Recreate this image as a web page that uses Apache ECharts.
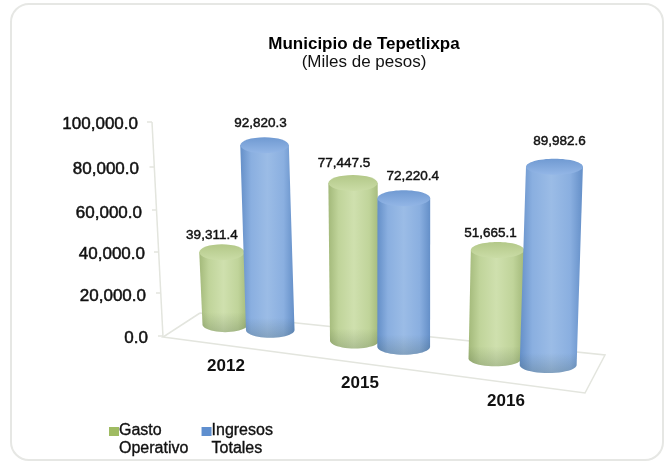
<!DOCTYPE html>
<html>
<head>
<meta charset="utf-8">
<style>html,body{margin:0;padding:0;background:#fff}#c{width:665px;height:462px}</style>
<script src="https://cdn.jsdelivr.net/npm/echarts@6/dist/echarts.min.js"></script>
</head>
<body>
<div id="c"></div>
<script>
const categories = ['2012', '2015', '2016'];
const gastoOperativo = [39311.4, 77447.5, 51665.1];
const ingresosTotales = [92820.3, 72220.4, 89982.6];
const yTicks = [0, 20000, 40000, 60000, 80000, 100000];

const FONT = '"Liberation Sans", Arial, sans-serif';
const fmt = v => v.toLocaleString('en-US', {minimumFractionDigits: 1, maximumFractionDigits: 1});

// Perspective of the 3-D scene, applied on top of the axis scales
const warp = x => x + 0.000293 * (x - 379) * (x - 379);
const warpD = x => 1 + 0.000586 * (x - 379);
const baseY = x => 324 + 0.1265 * (x - 224);
const depthStops = [[222, 0.85], [271, 0.93], [354, 0.95], [404, 0.96], [495, 0.98], [548, 1.03]];
const depthScale = x => {
  for (let i = 1; i < depthStops.length; i++) {
    if (x <= depthStops[i][0]) {
      const a = depthStops[i - 1], b = depthStops[i];
      return a[1] + (b[1] - a[1]) * Math.max(0, x - a[0]) / (b[0] - a[0]);
    }
  }
  return depthStops[depthStops.length - 1][1];
};
const lean = (x, h) => (x - 400) * h * 0.00022;

// Small per-label nudges, in pixels, relative to the top of each cylinder
const labelNudge = {
  green: [[-10, -9], [-9, -12], [-7, -9]],
  blue: [[-4, -14], [9, -14], [5, -17]]
};
// Reference tick labels sit slightly off the straight axis: [shift left, extra top padding]
const yLabelPad = {
  0: [0, 4], 20000: [2, 6], 40000: [3, 8], 60000: [6, 12], 80000: [9, 10], 100000: [10, 4]
};
const xLabelPad = {'2012': [22, 32], '2015': [39, 38], '2016': [57, 20]};

function cylinder(key, sign, edge, mid, light, capBack, capFront) {
  return function (params, api) {
    const i = api.value(0), v = api.value(1);
    const p = api.coord([i, v]);
    const p0 = api.coord([i, 0]);
    const band = api.size([1, 0])[0];
    const raw = p[0] + sign * band * 0.179;
    const x = warp(raw);
    const r = (key === 'blue' ? 26 : 25) * warpD(raw);
    const ry = 8;
    const h = (p0[1] - p[1]) * depthScale(x);
    const by = baseY(x);
    const ty = by - h;
    const tx = x + lean(x, p0[1] - p[1]);
    const pts = [[tx - r, ty], [tx + r, ty]];
    for (let k = 0; k <= 24; k++) {
      const a = Math.PI * k / 24;
      pts.push([x + r * Math.cos(a), by + ry * Math.sin(a)]);
    }
    const shade = [];
    const sh = 12;
    const sx = x + lean(x, sh);
    shade.push([sx - r, by - sh], [sx + r, by - sh]);
    for (let k = 0; k <= 24; k++) {
      const a = Math.PI * k / 24;
      shade.push([x + r * Math.cos(a), by + ry * Math.sin(a)]);
    }
    const G = echarts.graphic.LinearGradient;
    const nudge = labelNudge[key][i];
    return {
      type: 'group',
      children: [
        {type: 'polygon', shape: {points: pts}, style: {
          fill: new G(0, 0, 1, 0, [
            {offset: 0, color: edge}, {offset: 0.2, color: mid},
            {offset: 0.5, color: light}, {offset: 0.8, color: mid},
            {offset: 1, color: edge}])}},
        {type: 'polygon', shape: {points: shade}, style: {
          fill: new G(0, 0, 0, 1, [
            {offset: 0, color: 'rgba(40,60,40,0)'},
            {offset: 1, color: 'rgba(40,60,40,0.2)'}])}},
        {type: 'ellipse', shape: {cx: tx, cy: ty, rx: r, ry: ry}, style: {
          fill: new G(0, 0, 0, 1, [
            {offset: 0, color: capBack}, {offset: 1, color: capFront}])}},
        {type: 'text', style: {
          text: fmt(v), x: tx + nudge[0], y: ty - ry + nudge[1],
          fill: '#111', font: '13.5px ' + FONT, align: 'center', verticalAlign: 'middle',
          stroke: '#111', lineWidth: 0.45}}
      ]
    };
  };
}

const yRich = {};
yTicks.forEach(t => {
  yRich['t' + t] = {fontFamily: FONT, fontSize: 17, color: '#111',
    padding: [yLabelPad[t][1], yLabelPad[t][0], 0, 0],
    textBorderColor: '#111', textBorderWidth: 0.5};
});
const xRich = {};
categories.forEach(c => {
  xRich['c' + c] = {fontFamily: FONT, fontSize: 17, fontWeight: 'bold', color: '#111',
    padding: [xLabelPad[c][0], xLabelPad[c][1], 0, 0]};
});

const chart = echarts.init(document.getElementById('c'), null, {renderer: 'canvas'});
chart.setOption({
  animation: false,
  backgroundColor: '#ffffff',
  grid: {left: 173.5, width: 411, top: 122, height: 214, containLabel: false},
  xAxis: {
    type: 'category', data: categories,
    axisLine: {show: false}, axisTick: {show: false},
    axisLabel: {interval: 0, margin: 0, verticalAlign: 'top',
      formatter: v => `{c${v}|${v}}`, rich: xRich}
  },
  yAxis: {
    type: 'value', min: 0, max: 100000, interval: 20000,
    axisLine: {show: false}, axisTick: {show: false}, splitLine: {show: false},
    axisLabel: {margin: 25.5, formatter: v => `{t${v}|${fmt(v)}}`, rich: yRich}
  },
  legend: {
    left: 104, top: 417, itemGap: 13, itemWidth: 10, itemHeight: 30, selectedMode: false,
    icon: 'path://M0 4H10V13H0Z M0 30H0.01V30.01H0Z',
    data: ['Gasto Operativo', 'Ingresos Totales'],
    formatter: n => n.replace(' ', '\n'),
    textStyle: {fontFamily: FONT, fontSize: 16, color: '#111', lineHeight: 18, padding: [0, 0, 0, -5],
      textBorderColor: '#111', textBorderWidth: 0.35}
  },
  title: [
    {text: 'Municipio de Tepetlixpa', left: 359, top: 31, textAlign: 'center',
      textStyle: {fontFamily: FONT, fontSize: 17, fontWeight: 'bold', color: '#000'}},
    {text: '(Miles de pesos)', left: 359, top: 49, textAlign: 'center',
      textStyle: {fontFamily: FONT, fontSize: 17, fontWeight: 'normal', color: '#111'}}
  ],
  graphic: [
    {type: 'rect', shape: {x: 11, y: 4, width: 652, height: 456, r: 18}, z: 0,
      style: {fill: '#fff', stroke: '#e6e7e4', lineWidth: 2}},
    {type: 'polyline', z: 1, shape: {points: [[200, 313], [163, 337], [585, 393], [605, 355], [200, 313]]},
      style: {fill: 'none', stroke: '#e3e5de', lineWidth: 1.5}},
    {type: 'polyline', z: 1, shape: {points: [[152, 122], [163, 337]]},
      style: {fill: 'none', stroke: '#e3e5de', lineWidth: 1.5}},
    ...[[122, 152], [167, 154.5], [210, 157], [252, 159], [293, 161], [336, 163]].map(t => ({
      type: 'line', z: 1, shape: {x1: t[1] - 5, y1: t[0], x2: t[1], y2: t[0]},
      style: {stroke: '#e3e5de', lineWidth: 1.5}}))
  ],
  series: [
    {name: 'Gasto Operativo', type: 'custom', coordinateSystem: 'cartesian2d', clip: false,
      itemStyle: {color: '#9fbb62'}, z: 3,
      encode: {x: 0, y: 1},
      renderItem: cylinder('green', -1, '#a3b97a', '#c0d49a', '#cfe0ae', '#b3c888', '#cadca6'),
      data: gastoOperativo.map((v, i) => [i, v])},
    {name: 'Ingresos Totales', type: 'custom', coordinateSystem: 'cartesian2d', clip: false,
      itemStyle: {color: '#5f8fcf'}, z: 4,
      encode: {x: 0, y: 1},
      renderItem: cylinder('blue', 1, '#648fc8', '#8aafe0', '#9bbce6', '#709ad2', '#93b6e6'),
      data: ingresosTotales.map((v, i) => [i, v])}
  ]
});
</script>
</body>
</html>
